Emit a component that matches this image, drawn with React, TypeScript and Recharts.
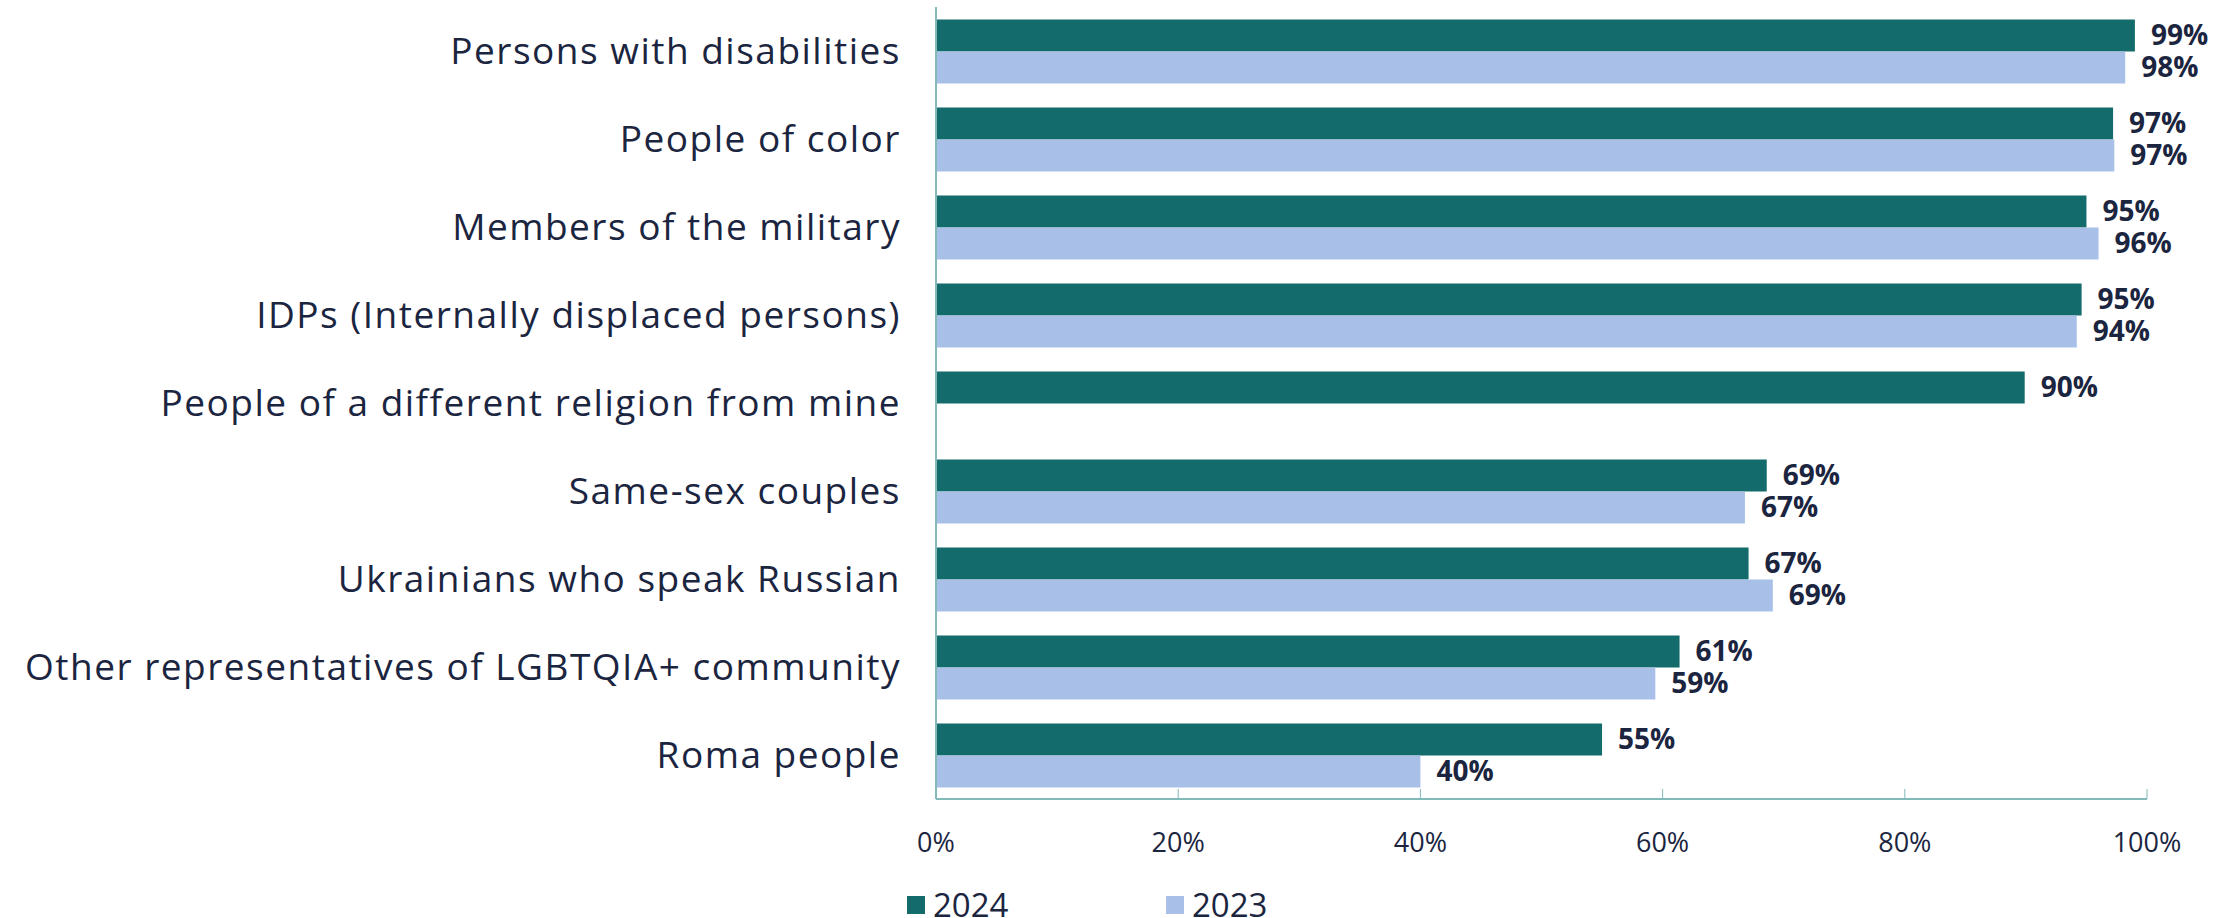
import React from "react";
import {
  BarChart,
  Bar,
  XAxis,
  YAxis,
  Legend,
  LabelList,
} from "recharts";

const categories = [
  "Persons with disabilities",
  "People of color",
  "Members of the military",
  "IDPs (Internally displaced persons)",
  "People of a different religion from mine",
  "Same-sex couples",
  "Ukrainians who speak Russian",
  "Other representatives of LGBTQIA+ community",
  "Roma people",
];

const values2024 = [99, 97.2, 95, 94.6, 89.9, 68.6, 67.1, 61.4, 55];
const values2023: (number | null)[] = [98.2, 97.3, 96, 94.2, null, 66.8, 69.1, 59.4, 40];

const xTicks = [0, 20, 40, 60, 80, 100];

const data = categories.map((name, i) => ({
  name,
  y2024: values2024[i],
  y2023: values2023[i],
}));

const TEAL = "#136b6b";
const BLUE = "#a8bfe8";
const TEXT = "#1b2540";
const AXIS = "#82b9b9";
const FONT = "'Open Sans', sans-serif";

const pct = (v: any) => (v == null ? "" : `${Math.round(Number(v))}%`);

const XTick = (props: any) => {
  const { x, y, payload } = props;
  return (
    <g>
      <line x1={x} x2={x} y1={y - 10} y2={y} stroke={AXIS} strokeWidth={1} />
      <text
        x={x}
        y={y + 42}
        textAnchor="middle"
        dominantBaseline="central"
        fill={TEXT}
        fontSize={27}
        fontFamily={FONT}
      >
        {`${payload.value}%`}
      </text>
    </g>
  );
};

const LegendContent = () => (
  <div style={{ display: "flex", alignItems: "center", fontFamily: FONT }}>
    {[
      { label: "2024", color: TEAL },
      { label: "2023", color: BLUE },
    ].map((item) => (
      <div key={item.label} style={{ display: "flex", alignItems: "center", width: 259 }}>
        <span style={{ width: 18, height: 18, background: item.color, display: "inline-block", marginRight: 8 }} />
        <span style={{ fontSize: 33, color: TEXT, lineHeight: "30px" }}>{item.label}</span>
      </div>
    ))}
  </div>
);

export default function App() {
  return (
    <div style={{ position: "absolute", left: 0, top: 0, width: 2239, height: 918, background: "#fff" }}>
      <BarChart
        width={2239}
        height={918}
        data={data}
        layout="vertical"
        margin={{ top: 7, right: 92, left: 0, bottom: 0 }}
        barCategoryGap="14.2%"
        barGap={0}
      >
        <XAxis
          type="number"
          domain={[0, 100]}
          ticks={xTicks}
          tickSize={0}
          tickMargin={0}
          tick={<XTick />}
          axisLine={{ stroke: AXIS, strokeWidth: 2 }}
          tickLine={false}
          height={89}
          interval={0}
        />
        <YAxis
          type="category"
          dataKey="name"
          width={936}
          tickSize={0}
          tickMargin={35}
          axisLine={{ stroke: AXIS, strokeWidth: 2 }}
          tickLine={false}
          interval={0}
          tick={{ fill: TEXT, fontSize: 37, fontFamily: FONT, letterSpacing: 1.5 }}
        />
        <Legend
          content={<LegendContent />}
          wrapperStyle={{ position: "absolute", left: 907, top: 890, width: 520, height: 30 }}
        />
        <Bar dataKey="y2024" name="2024" fill={TEAL} isAnimationActive={false}>
          <LabelList
            dataKey="y2024"
            position="right"
            offset={16}
            formatter={pct}
            fill={TEXT}
            fontSize={28}
            fontWeight={700}
            fontFamily={FONT}
          />
        </Bar>
        <Bar dataKey="y2023" name="2023" fill={BLUE} isAnimationActive={false}>
          <LabelList
            dataKey="y2023"
            position="right"
            offset={16}
            formatter={pct}
            fill={TEXT}
            fontSize={28}
            fontWeight={700}
            fontFamily={FONT}
          />
        </Bar>
      </BarChart>
    </div>
  );
}
